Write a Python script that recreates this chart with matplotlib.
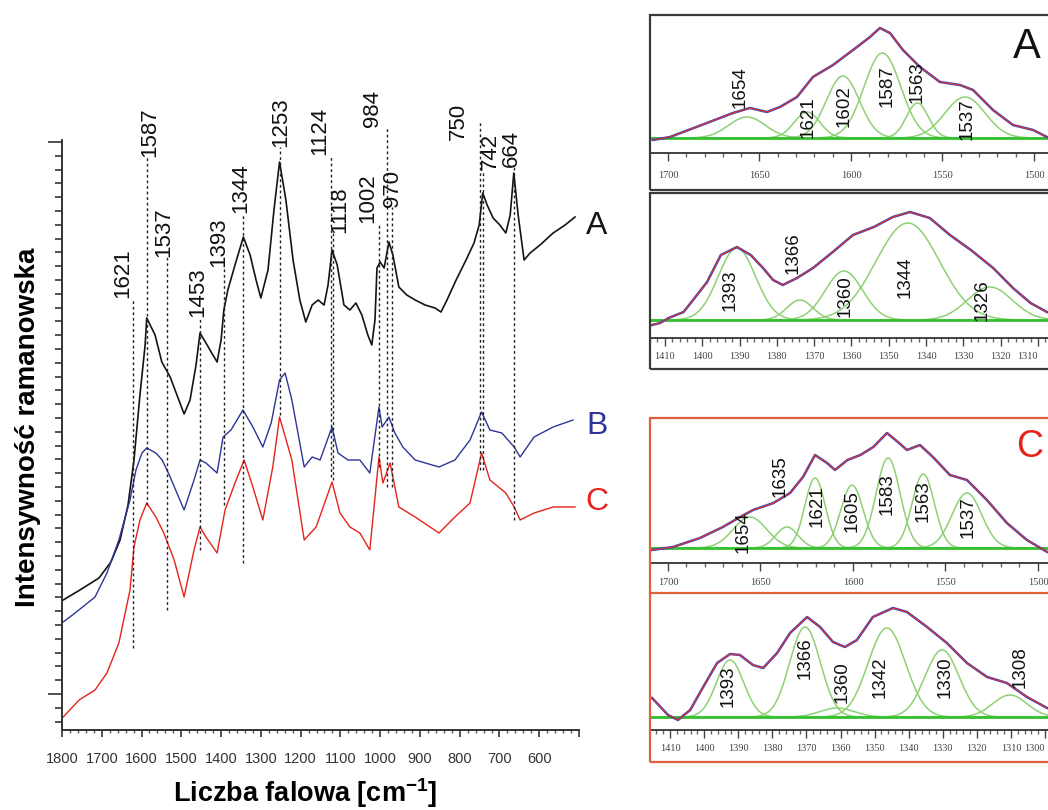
import numpy as np
import matplotlib
matplotlib.use("Agg")
import matplotlib.pyplot as plt
from matplotlib.patches import Rectangle
from matplotlib.lines import Line2D
from matplotlib.ticker import MultipleLocator

plt.rcParams['font.family'] = ['Liberation Sans', 'DejaVu Sans']
plt.rcParams['mathtext.fontset'] = 'custom'
plt.rcParams['mathtext.rm'] = 'Liberation Sans'
plt.rcParams['mathtext.bf'] = 'Liberation Sans:bold'

# ---------------- main spectra ----------------
wn_A = [1797, 1755, 1707, 1677, 1654, 1634, 1619, 1604, 1591, 1587, 1566, 1549, 1528, 1511, 1493,
        1478, 1463, 1453, 1435, 1425, 1410, 1400, 1393, 1383, 1365, 1344, 1327, 1312, 1300, 1282,
        1267, 1253, 1237, 1219, 1202, 1187, 1171, 1156, 1141, 1131, 1121, 1108, 1091, 1076, 1061,
        1046, 1031, 1021, 1013, 1008, 1000, 990, 978, 968, 953, 933, 912, 887, 862, 847, 832, 809,
        784, 764, 751, 742, 731, 716, 699, 684, 673, 664, 653, 638, 623, 598, 565, 535, 510]
int_A = [130, 140, 152, 168, 190, 225, 270, 335, 385, 412, 395, 368, 353, 335, 316,
         330, 365, 397, 385, 378, 368, 390, 420, 440, 465, 493, 475, 450, 432, 460,
         520, 568, 530, 470, 430, 408, 425, 430, 425, 445, 480, 465, 425, 420, 427,
         415, 395, 385, 410, 462, 468, 462, 488, 475, 443, 435, 430, 425, 422, 418, 430, 450,
         470, 487, 505, 537, 525, 512, 505, 497, 515, 557, 515, 470, 477, 485, 497, 505, 513]

wn_B = [1797, 1767, 1717, 1687, 1657, 1629, 1614, 1599, 1587, 1564, 1548, 1528, 1493, 1468, 1453,
        1438, 1410, 1395, 1375, 1345, 1320, 1295, 1274, 1253, 1239, 1222, 1191, 1171, 1151, 1121,
        1106, 1081, 1051, 1026, 1003, 995, 978, 963, 943, 912, 852, 812, 774, 745, 724, 694, 663,
        648, 613, 565, 515]
int_B = [108, 117, 133, 157, 190, 230, 260, 277, 282, 277, 270, 253, 220, 250, 270,
         267, 257, 293, 300, 320, 303, 283, 307, 350, 357, 330, 263, 273, 270, 303,
         277, 270, 270, 257, 323, 303, 313, 297, 283, 270, 263, 270, 290, 318, 300, 297, 283,
         273, 293, 303, 310]

wn_C = [1797, 1757, 1717, 1687, 1657, 1629, 1619, 1604, 1587, 1564, 1544, 1518, 1493, 1468, 1453,
        1438, 1410, 1390, 1365, 1342, 1320, 1295, 1270, 1253, 1222, 1191, 1161, 1121, 1101, 1076,
        1051, 1026, 1003, 993, 975, 953, 912, 852, 812, 774, 745, 724, 684, 663, 648, 613, 565, 510]
int_C = [13, 30, 40, 57, 87, 140, 183, 210, 227, 213, 197, 170, 133, 180, 203,
         193, 177, 220, 247, 270, 243, 210, 263, 313, 270, 190, 203, 248, 217, 203,
         197, 180, 273, 247, 267, 223, 213, 197, 213, 227, 277, 250, 237, 223, 210, 217, 223, 223]

series_names = ['A', 'B', 'C']
series_label_wn = [455, 455, 455]
series_label_int = [504, 304, 228]

peak_txt = ['1621', '1587', '1537', '1453', '1393', '1344', '1253', '1124', '1118',
            '1002', '984', '970', '750', '742', '664']
peak_wn = [1621, 1587, 1537, 1453, 1393, 1344, 1253, 1124, 1118, 1002, 984, 970, 750, 742, 664]
line_top = [432, 573, 473, 413, 463, 517, 583, 575, 497, 507, 603, 523, 608, 558, 563]
line_bot = [82, 225, 120, 180, 225, 167, 315, 253, 250, 263, 243, 243, 260, 260, 210]
label_wn = [1648, 1579, 1544, 1458, 1405, 1350, 1249, 1151, 1101, 1031, 1018, 968, 804, 724, 669]
label_base = [432, 573, 473, 413, 463, 517, 583, 575, 497, 507, 603, 523, 590, 560, 563]

x_major = [1800, 1700, 1600, 1500, 1400, 1300, 1200, 1100, 1000, 900, 800, 700, 600, 500]
x_major_lab = ['1800', '1700', '1600', '1500', '1400', '1300', '1200', '1100', '1000',
               '900', '800', '700', '600', '']

# ---------------- insets ----------------
p1_wn = [1708.2, 1698.9, 1678.7, 1664.5, 1655.2, 1645.9, 1638.8, 1629.5, 1620.8, 1609.8, 1598.9,
         1589.6, 1584.2, 1578.7, 1571.6, 1562.3, 1551.4, 1540.4, 1533.3, 1522.4, 1511.5, 1500.5, 1492.9]
p1_int = [-2, 1, 15, 25, 30, 26, 31, 41, 61, 73, 88, 101, 110, 105, 88, 71, 56, 53, 48, 28, 13, 8, 1]
p1_cen = [1656.8, 1624.0, 1604.4, 1582.8, 1563.7, 1537.7]
p1_amp = [21, 26, 62, 85, 35, 41]
p1_sig = [10, 7, 9, 10, 6, 11]
p1_lab = ['1654', '1621', '1602', '1587', '1563', '1537']
p1_lab_wn = [1660.7, 1623.5, 1603.8, 1580.3, 1563.9, 1536.6]
p1_lab_int = [51, 21, 32, 52, 56, 19]
p1_ticks = [1700, 1650, 1600, 1550, 1500]

p2_wn = [1413.5, 1411.3, 1409, 1405, 1401.4, 1398.7, 1395, 1390.7, 1387, 1383.7, 1381, 1378.4, 1374.6,
         1370.3, 1365, 1359.6, 1354, 1348.9, 1344.3, 1339, 1333.6, 1328, 1322, 1316.7, 1312, 1307.6, 1304]
p2_int = [-5, -3, 2, 8, 25, 38, 65, 73, 65, 52, 40, 35, 42, 52, 68, 85, 93, 103, 108, 102, 85, 70, 52,
          32, 17, 8, 4]
p2_cen = [1390.7, 1373.8, 1362.0, 1344.9, 1322.9]
p2_amp = [72, 20, 49, 97, 33]
p2_sig = [5, 3.5, 5, 8.5, 6]
p2_lab = ['1393', '1366', '1360', '1344', '1326']
p2_lab_wn = [1392.6, 1375.7, 1361.7, 1345.7, 1325]
p2_lab_int = [30, 67, 24, 43, 20]
p2_ticks = [1410, 1400, 1390, 1380, 1370, 1360, 1350, 1340, 1330, 1320, 1310]

p3_wn = [1708.6, 1697.3, 1682.7, 1670.3, 1661, 1654, 1643, 1634, 1627, 1620.5, 1614, 1609.7, 1603,
         1596, 1589, 1581.6, 1575.7, 1570.8, 1563.8, 1556.8, 1547.6, 1538.4, 1527.6, 1516.8, 1506,
         1495, 1489]
p3_int = [-2, 1, 10, 21, 31, 38, 45, 55, 71, 93, 85, 78, 88, 93, 101, 115, 106, 98, 103, 91, 73, 68,
          48, 25, 8, -4, -5]
p3_cen = [1655.7, 1635.7, 1620.5, 1600.5, 1581.0, 1562.0, 1538.4]
p3_amp = [31, 21, 70, 63, 90, 74, 55]
p3_sig = [9, 6, 5.5, 6, 6.5, 6, 8]
p3_lab = ['1654', '1635', '1621', '1605', '1583', '1563', '1537']
p3_lab_wn = [1659.5, 1639.5, 1619.5, 1600.5, 1581.6, 1562, 1537.8]
p3_lab_int = [16, 72, 42, 37, 54, 47, 31]
p3_ticks = [1700, 1650, 1600, 1550, 1500]

p4_wn = [1415.3, 1410.6, 1407.7, 1404.1, 1400.3, 1396.2, 1392.4, 1389.5, 1385.7, 1382.7, 1378.6,
         1374.8, 1369.8, 1366, 1362.2, 1358.7, 1355.2, 1350.5, 1344.6, 1340.5, 1334.6, 1328.8,
         1322.9, 1317, 1311.2, 1305.3, 1299.4]
p4_int = [19, 2, -3, 7, 30, 54, 63, 62, 52, 49, 64, 84, 100, 90, 75, 70, 77, 100, 109, 105, 90, 74,
          54, 40, 34, 20, 9]
p4_cen = [1392.4, 1370.4, 1361.0, 1346.4, 1330.2, 1310.3]
p4_amp = [57, 90, 9, 89, 67, 22]
p4_sig = [4, 4.5, 5, 5.5, 5, 5]
p4_lab = ['1393', '1366', '1360', '1342', '1330', '1308']
p4_lab_wn = [1393, 1370.4, 1359.6, 1348.4, 1329.4, 1307.4]
p4_lab_int = [31, 59, 35, 40, 40, 50]
p4_ticks = [1410, 1400, 1390, 1380, 1370, 1360, 1350, 1340, 1330, 1320, 1310, 1300]

# ---------------- figure ----------------
W, H = 1048, 810
fig = plt.figure(figsize=(W / 100, H / 100), dpi=100)
fig.patch.set_facecolor('white')


def box(x0, y0, x1, y1):
    return [x0 / W, 1 - y1 / H, (x1 - x0) / W, (y1 - y0) / H]


BLACK = '#141414'
BLUE = '#2d3596'
RED = '#e5231b'

ax = fig.add_axes(box(62, 140, 579, 730))
ax.plot(wn_A, int_A, color=BLACK, lw=1.2)
ax.plot(wn_B, int_B, color=BLUE, lw=1.0)
ax.plot(wn_C, int_C, color=RED, lw=1.0)
ax.set_xlim(1800, 500)
ax.set_ylim(0, 590)
for s in ['top', 'right']:
    ax.spines[s].set_visible(False)
for s in ['left', 'bottom']:
    ax.spines[s].set_color('#333333')
    ax.spines[s].set_linewidth(1.4)

ax.set_xticks(x_major)
ax.set_xticklabels(x_major_lab, fontfamily=['Liberation Sans Narrow', 'Liberation Sans'],
                   fontsize=10.5, color='#333333')
ax.xaxis.set_minor_locator(MultipleLocator(20))
ax.tick_params(axis='x', which='major', direction='out', length=5, width=1.2, color='#333333', pad=11)
ax.tick_params(axis='x', which='minor', direction='out', length=2.5, width=1, color='#555555')
ax.set_yticks([36, 588])
ax.set_yticklabels([])
ax.set_yticks(list(np.arange(8.4, 590, 13.8)), minor=True)
ax.tick_params(axis='y', which='major', direction='out', length=10, width=1.2, color='#333333')
ax.tick_params(axis='y', which='minor', direction='out', length=5, width=1.2, color='#333333')

for p, t, b, lx, lb, txt in zip(peak_wn, line_top, line_bot, label_wn, label_base, peak_txt):
    ax.plot([p, p], [b, t], ls=(0, (2, 2)), color='#222222', lw=1, clip_on=False)
    ax.text(lx, lb, txt, rotation=90, ha='center', va='bottom', fontsize=16,
            color='#111111', clip_on=False)

for name, sx, sy, col in zip(series_names, series_label_wn, series_label_int, [BLACK, BLUE, RED]):
    ax.text(sx, sy, name, color=col, fontsize=23, ha='center', va='center', clip_on=False)

fig.text(305 / W, 1 - 802 / H, r'Liczba falowa [cm$^{\mathbf{-1}}$]', fontsize=19.5,
         fontweight='bold', ha='center', va='baseline')
fig.text(28 / W, 1 - 427 / H, 'Intensywność ramanowska', rotation=90, fontsize=20,
         fontweight='bold', ha='center', va='center')

GREEN = '#8ed174'
BASEG = '#35c12f'
FIT_BLUE = '#3346c6'
DATA_RED = '#e8341f'


def inset(pbox, xlim, ylim, ewn, eint, cen, amp, sig, lab, lwn, lint, ticks, pad):
    a = fig.add_axes(box(*pbox))
    a.set_xlim(*xlim)
    a.set_ylim(*ylim)
    grid = np.linspace(min(xlim), max(xlim), 800)
    for c, A, s in zip(cen, amp, sig):
        a.plot(grid, A * np.exp(-0.5 * ((grid - c) / s) ** 2), color=GREEN, lw=1.1)
    a.axhline(0, color=BASEG, lw=2)
    a.plot(ewn, eint, color=FIT_BLUE, lw=1.8)
    a.plot(ewn, eint, color=DATA_RED, lw=0.8)
    for x, y, t in zip(lwn, lint, lab):
        a.text(x, y, t, rotation=90, ha='center', va='center', fontsize=13.5, color='#111111')
    for s in ['top', 'left', 'right']:
        a.spines[s].set_visible(False)
    a.spines['bottom'].set_color('#333333')
    a.spines['bottom'].set_linewidth(1.3)
    a.set_yticks([])
    a.set_xticks(ticks)
    a.set_xticklabels([str(t) for t in ticks], fontfamily='Liberation Serif', fontsize=7.5,
                      color='#444444')
    # keep a label that sits on the figure's right edge inside the picture
    xmax = min(xlim)
    for t, lbl in zip(ticks, a.get_xticklabels()):
        if t - xmax < 8:
            lbl.set_horizontalalignment('right')
    step = abs(ticks[0] - ticks[1]) / 5
    a.xaxis.set_minor_locator(MultipleLocator(step))
    a.tick_params(axis='x', which='major', direction='out', length=6, width=1, color='#444444', pad=pad)
    a.tick_params(axis='x', which='minor', direction='out', length=3, width=1, color='#666666')
    a.patch.set_alpha(0)
    return a


a1 = inset((650, 15, 1060, 153), (1709.8, 1485.8), (-15, 123), p1_wn, p1_int, p1_cen, p1_amp,
           p1_sig, p1_lab, p1_lab_wn, p1_lab_int, p1_ticks, 7)
a1.text(1503.8, 91, 'A', fontsize=30, ha='center', va='center', color='#111111')
a2 = inset((650, 193, 1060, 338), (1414.0, 1304.1), (-18, 127), p2_wn, p2_int, p2_cen, p2_amp,
           p2_sig, p2_lab, p2_lab_wn, p2_lab_int, p2_ticks, 4)
a3 = inset((650, 418, 1060, 563), (1709.7, 1488.1), (-15, 130), p3_wn, p3_int, p3_cen, p3_amp,
           p3_sig, p3_lab, p3_lab_wn, p3_lab_int, p3_ticks, 5)
a3.text(1504.3, 101, 'C', fontsize=27, ha='center', va='center', color=RED)
a4 = inset((650, 593, 1060, 730), (1415.9, 1295.6), (-13, 124), p4_wn, p4_int, p4_cen, p4_amp,
           p4_sig, p4_lab, p4_lab_wn, p4_lab_int, p4_ticks, 4)

FRAME = '#3a3a3a'
FRAME_C = '#e0603c'
for (x0, y0, x1, y1, col) in [(650, 15, 1060, 190, FRAME), (650, 193, 1060, 369, FRAME),
                              (650, 418, 1060, 762, FRAME_C)]:
    fig.add_artist(Rectangle((x0 / W, 1 - y1 / H), (x1 - x0) / W, (y1 - y0) / H,
                             transform=fig.transFigure, fill=False, ec=col, lw=1.6))
fig.add_artist(Line2D([650 / W, 1060 / W], [1 - 593 / H, 1 - 593 / H], transform=fig.transFigure,
                      color=FRAME_C, lw=1.6))

fig.savefig('out.png', dpi=100, facecolor='white')
